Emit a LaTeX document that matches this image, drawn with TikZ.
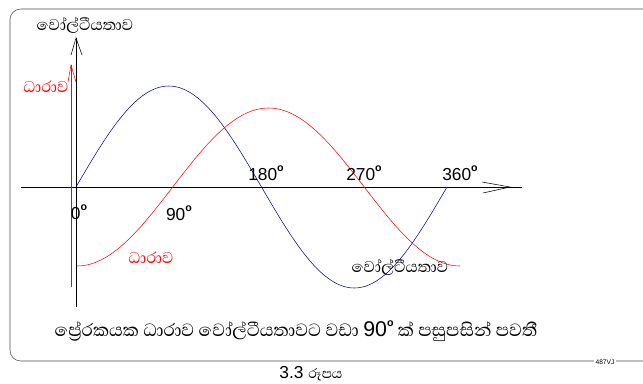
\documentclass[tikz,border=0pt]{standalone}
\usepackage{fontspec}
\setmainfont{Liberation Sans}
\newfontfamily\sinhala[Script=Sinhala]{Abhaya Libre}
\newcommand{\dg}{\raisebox{0.5em}{\fontsize{8}{8}\selectfont\textbf{o}}}

\begin{document}
\begin{tikzpicture}[x=0.75pt,y=-0.75pt,
  lbl/.style={font=\fontsize{13}{15}\selectfont,inner sep=0pt},
  sin/.style={font=\sinhala\fontsize{15}{17}\selectfont,inner sep=0pt}]
  \useasboundingbox (0,0) rectangle (643,383);
  % frame
  \draw[gray!60!black,rounded corners=8pt] (643,9)--(10,9)--(10,361)--(643,361);
  % axes
  \draw (76,307)--(76,38);
  \draw (71,55)--(76,38)--(82,55);
  \draw (21,187)--(522,187);
  \draw (482,182)--(510,187)--(483,193);
  \draw[red] (71,287)--(71,65);
  \draw[red] (68,82)--(71,65)--(76,82);
  % curves
  \draw[blue!60!black] plot[smooth,domain=0:360,samples=73] ({76+\x/360*371},{187-101*sin(\x)});
  \draw[red] plot[smooth,domain=0:360,samples=73] ({77+\x/360*383},{187+79*cos(\x)});
  % labels
  \node[sin] (volttop) at (85,25) {වෝල්ටීයතාව};
  \node[sin,text=red] (curtop) at (46,87) {ධාරාව};
  \node[lbl] (d0) at (79,212) {0\dg};
  \node[lbl] (d90) at (179,213) {90\dg};
  \node[lbl] (d180) at (266,173) {180\dg};
  \node[lbl] (d270) at (364,173) {270\dg};
  \node[lbl] (d360) at (460,173) {360\dg};
  \node[sin,text=red] (curlow) at (151,258) {ධාරාව};
  \node[sin] (voltlow) at (400,267) {වෝල්ටීයතාව};
  \node[sin,font=\sinhala\fontsize{17}{19}\selectfont] (caption) at (296,331)
    {ප්‍රේරකයක ධාරාව වෝල්ටීයතාවට වඩා {\rmfamily\fontsize{16}{18}\selectfont 90\dg} ක් පසුපසින් පවතී};
  \node[lbl,anchor=base] (figno) at (311,378) {3.3 {\sinhala රූපය}};
  \node[fill=white,inner sep=1pt,font=\fontsize{5}{6}\selectfont] (code) at (605,362) {487VJ};
\end{tikzpicture}
\end{document}
